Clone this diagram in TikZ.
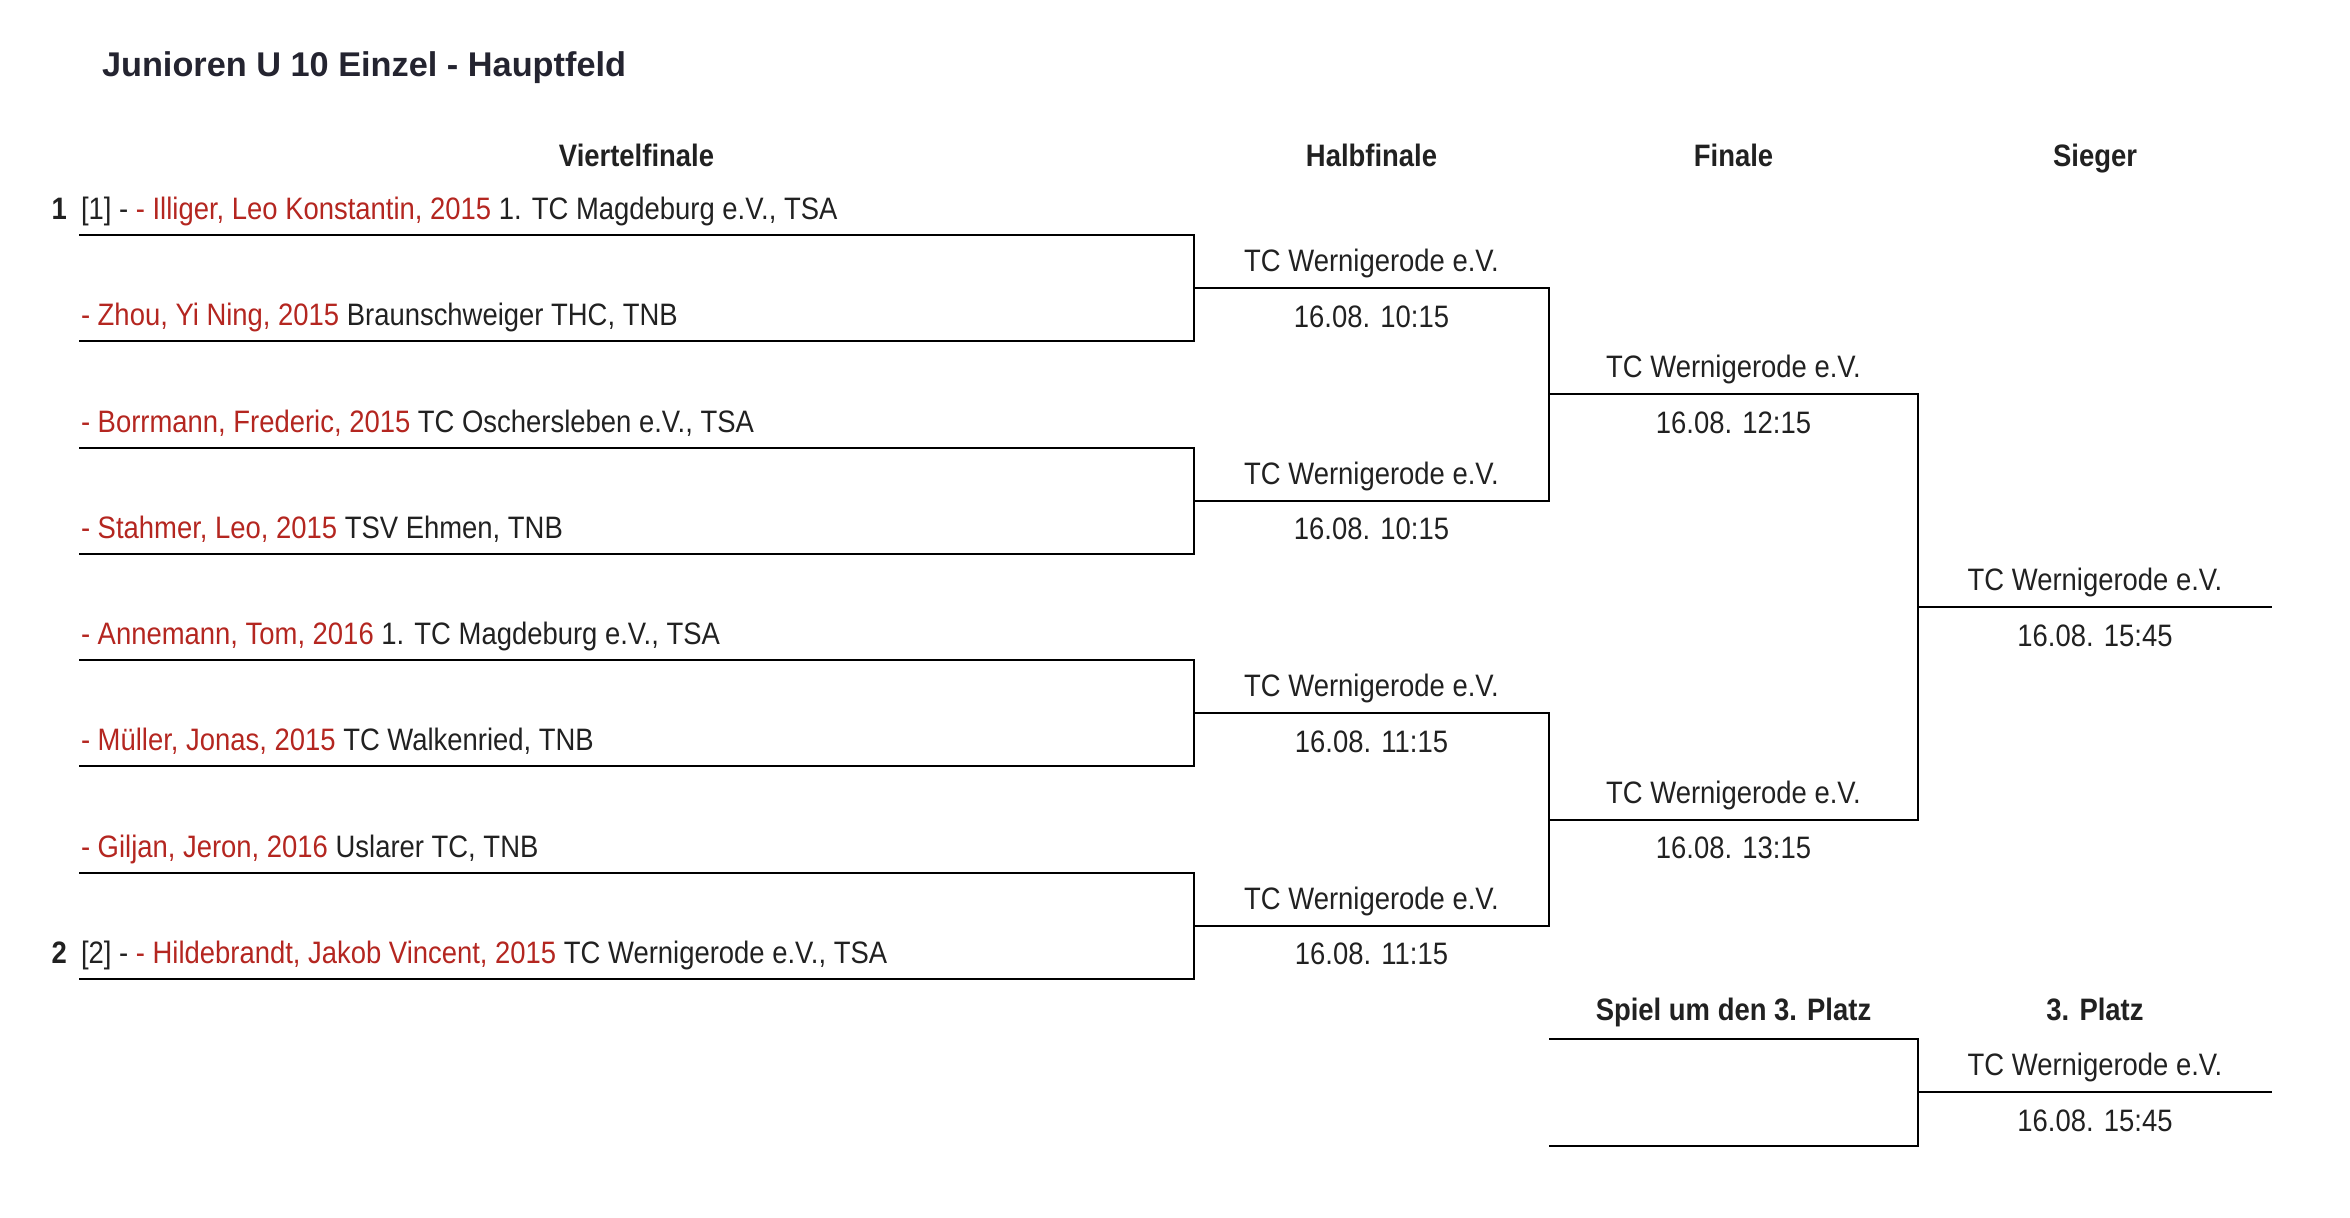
\documentclass[tikz,border=0pt]{standalone}
\usepackage{fontspec}
\setmainfont{Liberation Sans}[FakeStretch=0.885]
\newfontfamily\titlefont{Liberation Sans}
\definecolor{namered}{RGB}{180,38,32}
\definecolor{inkgray}{RGB}{33,33,33}
\definecolor{titleink}{RGB}{36,36,48}
\newcommand{\pname}[1]{\textcolor{namered}{#1}}
\tikzset{
	slot/.style={anchor=base west,inner sep=0pt,text=inkgray},
	seed/.style={anchor=base east,inner sep=0pt,text=inkgray,font=\bfseries\fontsize{15.5}{18}\selectfont},
	club/.style={anchor=base,inner sep=0pt,text=inkgray},
	roundhead/.style={anchor=base,inner sep=0pt,text=inkgray,font=\bfseries\fontsize{15.5}{18}\selectfont},
}
\begin{document}
\begin{tikzpicture}[x=0.5pt,y=-0.5pt,line width=1pt,font=\fontsize{15.5}{18}\selectfont]
			\def \xa{79}
			\def \xb{1194}
			\def \xc{1549}
			\def \xd{1918}
			\def \xe{2272}
			\def \ya{235}
			\def \dy{106.3}
			\useasboundingbox (0,0) rectangle (2350,1218);
			% Titel und Runden
			\node[anchor=base west,inner sep=0pt,text=titleink,font=\titlefont\bfseries\fontsize{17.15}{20}\selectfont] (title) at (101,77) {Junioren U 10 Einzel - Hauptfeld};
			\node[roundhead] (hvf) at ({(\xa+\xb)/2},167) {Viertelfinale};
			\node[roundhead] (hhf) at ({(\xb+\xc)/2},167) {Halbfinale};
			\node[roundhead] (hfi) at ({(\xc+\xd)/2},167) {Finale};
			\node[roundhead] (hsg) at ({(\xd+\xe)/2},167) {Sieger};
			\node[roundhead] (hsp) at ({(\xc+\xd)/2},1020) {Spiel um den 3. Platz};
			\node[roundhead] (hpl) at ({(\xd+\xe)/2},1020) {3. Platz};
			% Viertelfinale
			\foreach \i in {0,...,7}{
				\coordinate (vs\i) at (\xa,{\ya+\i*\dy});
				\coordinate (ve\i) at (\xb,{\ya+\i*\dy});
			}
			\foreach \i/\j in {0/1,2/3,4/5,6/7}
				\draw (vs\i) -- (ve\i) -- (ve\j) -- (vs\j);
			\node[seed] (sd1) at (68,{\ya-15.5}) {1};
			\node[slot] (p0) at (80,{\ya-15.5}) {[1] - \pname{- Illiger, Leo Konstantin, 2015} 1. TC Magdeburg e.V., TSA};
			\foreach \i/\nm/\cl in {1/{- Zhou, Yi Ning, 2015}/{Braunschweiger THC, TNB},
				2/{- Borrmann, Frederic, 2015}/{TC Oschersleben e.V., TSA},
				3/{- Stahmer, Leo, 2015}/{TSV Ehmen, TNB},
				4/{- Annemann, Tom, 2016}/{1. TC Magdeburg e.V., TSA},
				5/{- Müller, Jonas, 2015}/{TC Walkenried, TNB},
				6/{- Giljan, Jeron, 2016}/{Uslarer TC, TNB}}
				\node[slot] (p\i) at (80,{\ya+\i*\dy-15.5}) {\pname{\nm} \cl};
			\node[seed] (sd2) at (68,{\ya+7*\dy-15.5}) {2};
			\node[slot] (p7) at (80,{\ya+7*\dy-15.5}) {[2] - \pname{- Hildebrandt, Jakob Vincent, 2015} TC Wernigerode e.V., TSA};
			% Halbfinale
			\foreach \n/\t in {0/10:15,1/10:15,2/11:15,3/11:15}{
				\coordinate (hs\n) at (\xb,{\ya+(2*\n+0.5)*\dy});
				\coordinate (he\n) at (\xc,{\ya+(2*\n+0.5)*\dy});
				\node[club] (hw\n) at ({(\xb+\xc)/2},{\ya+(2*\n+0.5)*\dy-16.6}) {TC Wernigerode e.V.};
				\node[club] (hd\n) at ({(\xb+\xc)/2},{\ya+(2*\n+0.5)*\dy+39}) {16.08. \t};
			}
			\foreach \i/\j in {0/1,2/3}
				\draw (hs\i) -- (he\i) -- (he\j) -- (hs\j);
			% Finale
			\foreach \n/\k/\t in {0/1.5/12:15,1/5.5/13:15}{
				\coordinate (fs\n) at (\xc,{\ya+\k*\dy});
				\coordinate (fe\n) at (\xd,{\ya+\k*\dy});
				\node[club] (fw\n) at ({(\xc+\xd)/2},{\ya+\k*\dy-16.6}) {TC Wernigerode e.V.};
				\node[club] (fd\n) at ({(\xc+\xd)/2},{\ya+\k*\dy+39}) {16.08. \t};
			}
			\draw (fs0) -- (fe0) -- (fe1) -- (fs1);
			% Sieger
			\coordinate (ss) at (\xd,{\ya+3.5*\dy});
			\coordinate (se) at (\xe,{\ya+3.5*\dy});
			\draw (ss) -- (se);
			\node[club] (sw) at ({(\xd+\xe)/2},{\ya+3.5*\dy-16.6}) {TC Wernigerode e.V.};
			\node[club] (sdt) at ({(\xd+\xe)/2},{\ya+3.5*\dy+39}) {16.08. 15:45};
			% Spiel um den 3. Platz
			\coordinate (ps0) at (\xc,1039);
			\coordinate (pe0) at (\xd,1039);
			\coordinate (ps1) at (\xc,1145.5);
			\coordinate (pe1) at (\xd,1145.5);
			\coordinate (ts) at (\xd,1092);
			\coordinate (te) at (\xe,1092);
			\draw (ps0) -- (pe0) -- (pe1) -- (ps1);
			\draw (ts) -- (te);
			\node[club] (tw) at ({(\xd+\xe)/2},{1092-16.6}) {TC Wernigerode e.V.};
			\node[club] (tdt) at ({(\xd+\xe)/2},{1092+39}) {16.08. 15:45};
\end{tikzpicture}
\end{document}
